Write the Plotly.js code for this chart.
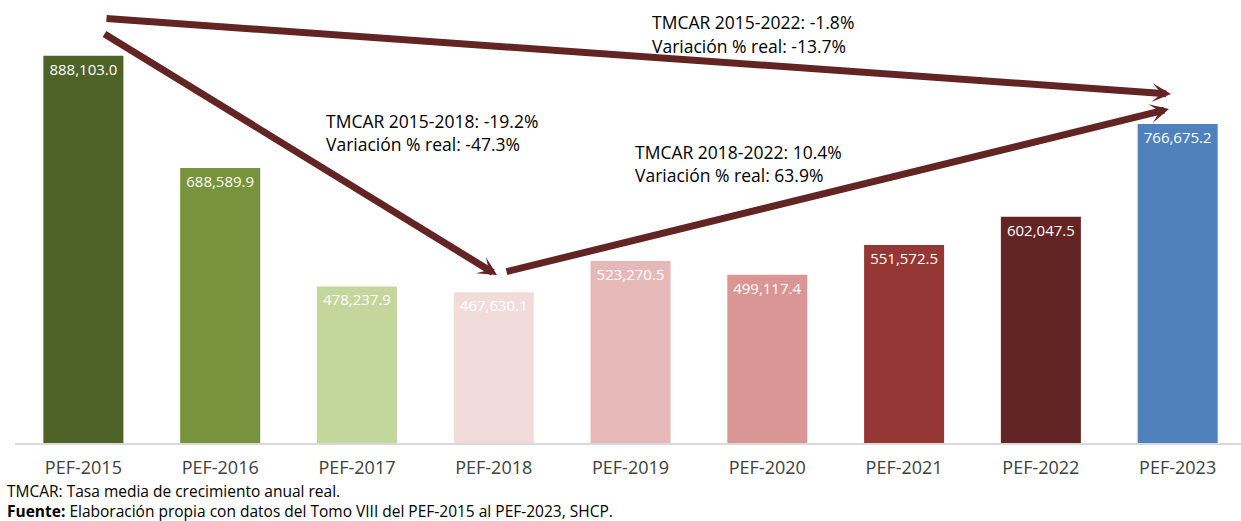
<!DOCTYPE html>
<html>
<head>
<meta charset="utf-8">
<script src="https://cdn.plot.ly/plotly-3.0.1.min.js"></script>
<style>html,body{margin:0;padding:0;background:#fff;}#chart{width:1241px;height:521px;}</style>
</head>
<body>
<div id="chart"></div>
<script>
const categories = ["PEF-2015","PEF-2016","PEF-2017","PEF-2018","PEF-2019","PEF-2020","PEF-2021","PEF-2022","PEF-2023"];
const values = [888103.0, 688589.9, 478237.9, 467630.1, 523270.5, 499117.4, 551572.5, 602047.5, 766675.2];
const barColors = ["#4F6228","#77933C","#C3D69B","#F2DCDB","#E6B9B8","#D99694","#953735","#632523","#4F81BD"];
const noteLines = [
  {text: "TMCAR 2015-2022: -1.8%", px: 653, py: 22},
  {text: "Variación % real: -13.7%", px: 653, py: 46},
  {text: "TMCAR 2015-2018: -19.2%", px: 327, py: 121},
  {text: "Variación % real: -47.3%", px: 327, py: 144},
  {text: "TMCAR 2018-2022: 10.4%", px: 636, py: 152},
  {text: "Variación % real: 63.9%", px: 636, py: 175}
];
const footnoteLines = [
  "TMCAR: Tasa media de crecimiento anual real.",
  "<b>Fuente:</b> Elaboración propia con datos del Tomo VIII del PEF-2015 al PEF-2023, SHCP."
];
// arrows: tail (tx,ty) -> tip (hx,hy) in page pixels
const arrows = [
  {tx: 105, ty: 18.5, hx: 1171, hy: 94},
  {tx: 103, ty: 33, hx: 497, hy: 275},
  {tx: 505, ty: 272, hx: 1169, hy: 109}
];

const W = 1241, H = 521;
const mL = 15, mR = 0, mT = 49, mB = 78;
const pw = W - mL - mR, ph = H - mT - mB;
const px2x = p => (p - mL) / pw;
const py2y = p => (H - mB - p) / ph;

const font = "Open Sans, Noto Sans, sans-serif";

const trace = {
  type: "bar",
  x: categories,
  y: values,
  marker: {color: barColors, line: {width: 0}},
  texttemplate: "%{y:,.1f}",
  textposition: "inside",
  insidetextanchor: "end",
  constraintext: "none",
  textangle: 0,
  textfont: {family: font, size: 15, color: "#ffffff"},
  cliponaxis: false,
  hoverinfo: "x+y"
};

const annotations = [];
noteLines.forEach(n => annotations.push({
  xref: "paper", yref: "paper", x: px2x(n.px - 3), y: py2y(n.py),
  xanchor: "left", yanchor: "middle", showarrow: false, text: n.text,
  font: {family: font, size: 17.5, color: "#000000"}
}));
annotations.push({
  xref: "paper", yref: "paper", x: px2x(8 - 3), y: py2y(501),
  xanchor: "left", yanchor: "middle", align: "left", showarrow: false,
  text: footnoteLines.join("<br>"),
  font: {family: font, size: 15.5, color: "#000000"}
});
arrows.forEach(a => annotations.push({
  xref: "paper", yref: "paper", x: px2x(a.hx), y: py2y(a.hy),
  axref: "pixel", ayref: "pixel", ax: a.tx - a.hx, ay: a.ty - a.hy,
  text: "", showarrow: true, arrowhead: 3, arrowsize: 0.45, arrowwidth: 7,
  arrowcolor: "#632523", standoff: 0, startstandoff: 0
}));

const layout = {
  width: W, height: H,
  margin: {l: mL, r: mR, t: mT, b: mB, pad: 0},
  paper_bgcolor: "#ffffff", plot_bgcolor: "#ffffff",
  showlegend: false,
  bargap: 0.415,
  xaxis: {
    type: "category",
    range: [-0.5, 8.463],
    showline: true, linecolor: "#d9d9d9", linewidth: 1.5,
    showgrid: false, zeroline: false, ticks: "",
    ticklabelstandoff: 8,
    tickfont: {family: font, size: 18, color: "#404040"},
    fixedrange: true
  },
  yaxis: {
    range: [200000, 900000],
    showline: false, showgrid: false, zeroline: false, showticklabels: false, ticks: "",
    fixedrange: true
  },
  annotations: annotations
};

Plotly.newPlot("chart", [trace], layout, {displayModeBar: false, staticPlot: true});
</script>
</body>
</html>
